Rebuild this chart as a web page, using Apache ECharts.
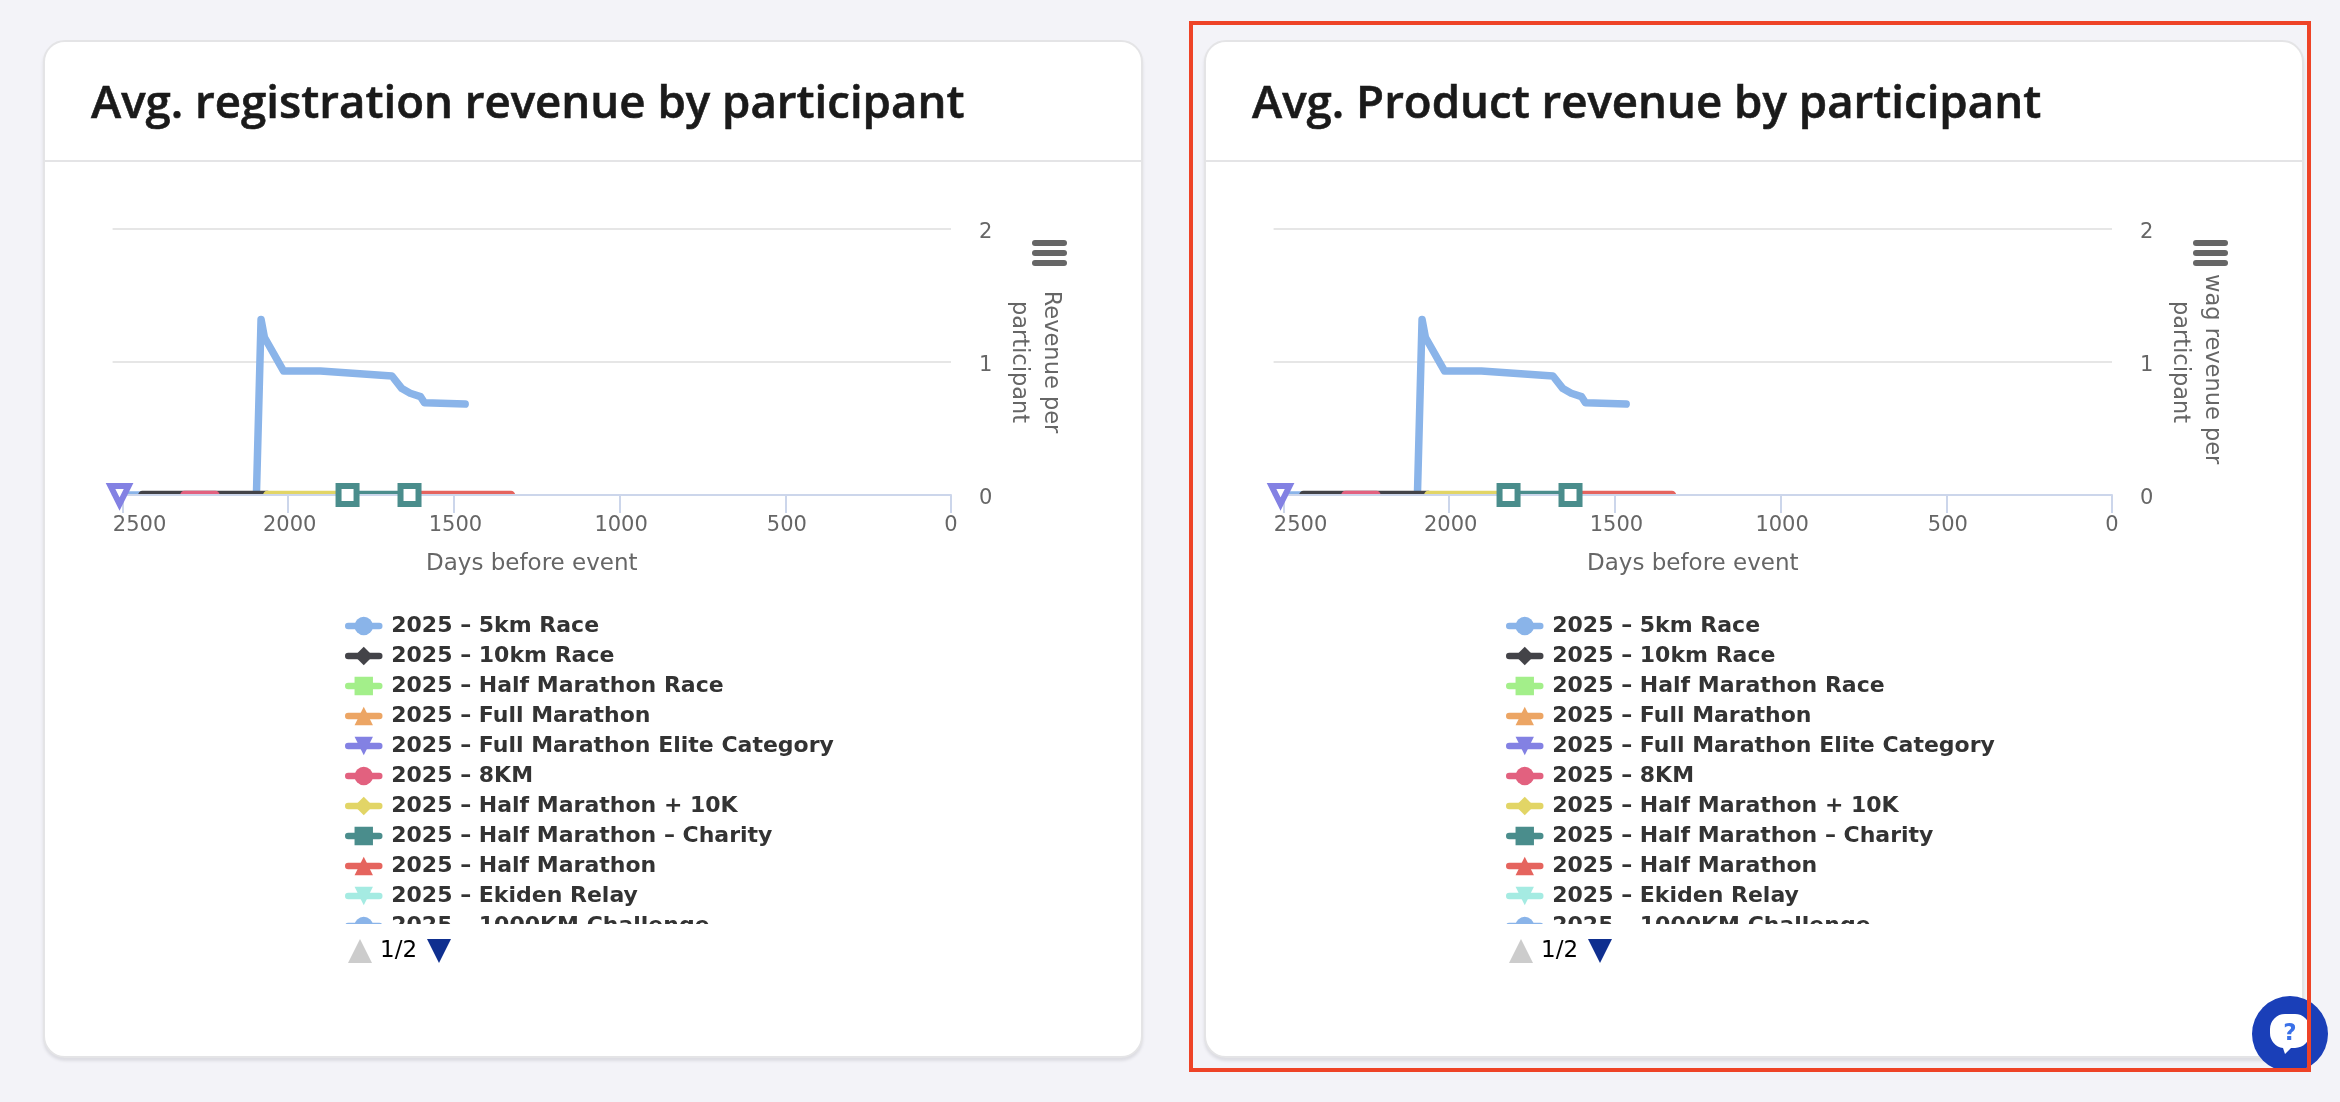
<!DOCTYPE html>
<html><head><meta charset="utf-8">
<script src="https://cdn.jsdelivr.net/npm/echarts@6/dist/echarts.min.js"></script>
<style>
html,body{margin:0;padding:0;background:#f3f3f8;width:2340px;height:1102px;overflow:hidden}
.card{position:absolute;top:40px;width:1096px;height:1014px;background:#fff;border:2px solid #e4e4e6;border-radius:22px;box-shadow:0 3px 3px #dcdce2;box-sizing:content-box}
.rule{position:absolute;left:0;right:0;top:118px;height:2px;background:#e4e4e6}
.chart{position:absolute;left:-2px;top:-2px;width:1100px;height:1018px}
#red{position:absolute;left:1189px;top:21px;width:1114px;height:1043px;border:4px solid #ee4327;z-index:3}
#help{position:absolute;left:2252px;top:996px;z-index:2}
</style></head><body>
<div class="card" style="left:43px"><div class="rule"></div><div class="chart" id="c1"></div></div>
<div class="card" style="left:1204px"><div class="rule"></div><div class="chart" id="c2"></div></div>
<div id="red"></div>
<svg id="help" width="76" height="76" viewBox="0 0 76 76"><circle cx="38" cy="38" r="38" fill="#1a3fb8"/><path d="M33 18h10a15 15 0 0 1 15 15v4a15 15 0 0 1-15 15h-4l-6 6-2-6a15 15 0 0 1-13-15v-4a15 15 0 0 1 15-15z" fill="#fff"/><text x="38" y="44" text-anchor="middle" font-family="DejaVu Sans" font-weight="700" font-size="23" fill="#3a70e8">?</text></svg>
<script>
const seriesNames = ['2025 – 5km Race','2025 – 10km Race','2025 – Half Marathon Race','2025 – Full Marathon','2025 – Full Marathon Elite Category','2025 – 8KM','2025 – Half Marathon + 10K','2025 – Half Marathon – Charity','2025 – Half Marathon','2025 – Ekiden Relay','2025 – 1000KM Challenge','\u00a0'];
const seriesColors = ['#8ab4e9','#434348','#a3ef8a','#eca564','#8381e3','#e2617f','#e2d566','#4a8d8c','#e5645e','#a5ebe2','#8ab4e9','#434348'];
const triDown = 'path://M0,0L20,0L10,20Z', triUp = 'path://M0,20L20,20L10,0Z';
const seriesSymbols = ['circle','diamond','rect',triUp,triDown,'circle','diamond','rect',triUp,triDown,'circle','diamond'];
const race5km = [[2509,0],[2096,0],[2082,1.32],[2072,1.186],[2014,0.932],[1903,0.932],[1687,0.895],[1657,0.80],[1632,0.765],[1601,0.74],[1589,0.694],[1466,0.684]];
const race10km = [[2440,0],[2063,0]];
const halfRace = [];
const fullMarathon = [];
const eliteCategory = [[2509,0]];
const race8km = [[2313,0],[2220,0]];
const halfPlus10k = [[2063,0],[1821,0]];
const halfCharity = [[1821,0],[1634,0]];
const halfMarathon = [[1598,0],[1328,0]];
const ekiden = [];
const challenge1000 = [];
const nextPagePlaceholder = [];
const seriesValues = [race5km,race10km,halfRace,fullMarathon,eliteCategory,race8km,halfPlus10k,halfCharity,halfMarathon,ekiden,challenge1000,nextPagePlaceholder];
const isolatedPoints = {4:[[2509,0]], 7:[[1821,0],[1634,0]]};
const xTicks = [0,500,1000,1500,2000,2500];
const yTicks = [0,1,2];
const xMax = 2530;
const pageLabel = '1/2';
const cards = [
 {id:'c1',title:'Avg. registration revenue by participant',yName:'Revenue per\nparticipant'},
 {id:'c2',title:'Avg. Product revenue by participant',yName:'\u00a0\u00a0wag revenue per\nparticipant'}
];
const AXIS='#ccd6eb', GRID='#e6e6e6', TXT='#666666', SANS='"DejaVu Sans"';
cards.forEach(cfg=>{
 const chart = echarts.init(document.getElementById(cfg.id),null,{renderer:'canvas'});
 const burger=[200,210,220].map(y=>({type:'rect',z:6,silent:true,shape:{x:989,y,width:35,height:6,r:3},style:{fill:'#666'}}));
 const pager=[
  {type:'polygon',z:6,silent:true,shape:{points:[[305,923],[329,923],[317,899]]},style:{fill:'#cccccc'}},
  {type:'text',z:6,silent:true,x:337,y:911,style:{text:pageLabel,fontFamily:SANS,fontSize:23,fill:'#000',verticalAlign:'middle'}},
  {type:'polygon',z:6,silent:true,shape:{points:[[384,899],[408,899],[396,923]]},style:{fill:'#0f2f8f'}}
 ];
 chart.setOption({
  animation:false,
  title:{text:cfg.title,left:43,top:37,textStyle:{fontFamily:'"Open Sans"',fontWeight:600,fontSize:45.6,color:'#1a1a1a',textBorderColor:'#1a1a1a',textBorderWidth:0.6}},
  grid:{left:69.6,top:189,width:838.4,height:266,containLabel:false},
  xAxis:{type:'value',inverse:true,min:0,max:xMax,interval:500,z:4,
    name:'Days before event',nameLocation:'middle',nameGap:58,nameTextStyle:{fontFamily:SANS,fontSize:23,color:TXT},
    axisLine:{show:true,lineStyle:{color:AXIS,width:2}},
    axisTick:{show:true,length:18,lineStyle:{color:AXIS,width:2},customValues:xTicks},
    splitLine:{show:false},
    axisLabel:{margin:20,fontFamily:SANS,fontSize:21,color:TXT,customValues:xTicks,
      formatter:v=>v===2500?'{f|2500}':v===0?'0':'{n|'+v+'}',
      rich:{f:{fontFamily:SANS,fontSize:21,color:TXT,padding:[0,0,0,34]},n:{fontFamily:SANS,fontSize:21,color:TXT,padding:[0,0,0,3]}}}},
  yAxis:{type:'value',position:'right',min:0,max:2,interval:1,
    name:cfg.yName,nameLocation:'middle',nameRotate:-90,nameGap:49,nameTextStyle:{fontFamily:SANS,fontSize:22.5,color:TXT,lineHeight:32},
    axisLine:{show:false},axisTick:{show:false},
    splitLine:{show:true,lineStyle:{color:GRID,width:2}},
    axisLabel:{margin:28,fontFamily:SANS,fontSize:21,color:TXT,customValues:yTicks,
      formatter:v=>'{v|'+v+'}',rich:{v:{fontFamily:SANS,fontSize:21,color:TXT,padding:[8,0,0,0]}}}},
  legend:{type:'scroll',orient:'vertical',left:302,top:574,height:349,width:560,padding:0,itemWidth:31,itemHeight:23,itemGap:6,
    data:seriesNames,textStyle:{fontFamily:SANS,fontWeight:'bold',fontSize:22,color:'#333',lineHeight:24,padding:[0,0,0,7]},
    lineStyle:{width:6.5,cap:'round'},
    pageIconColor:'transparent',pageIconInactiveColor:'transparent',pageIconSize:24,pageButtonGap:15,pageButtonItemGap:8,pageFormatter:' ',pageTextStyle:{color:'transparent'}},
  graphic:[{type:'rect',z:3,silent:true,shape:{x:69.6,y:456,width:838.4,height:4},style:{fill:'#fff'}},...burger,...pager],
  series:seriesNames.map((name,i)=>({
    name,type:'line',data:seriesValues[i],showSymbol:false,symbol:seriesSymbols[i],symbolSize:19,
    clip:false,z:2,
    lineStyle:{width:i===0?7.5:8.6,cap:'round',join:'round',color:seriesColors[i]},
    itemStyle:{color:seriesColors[i]},
    markPoint:isolatedPoints[i]?{silent:true,symbol:seriesSymbols[i],symbolSize:18,label:{show:false},
      itemStyle:{color:'#fff',borderColor:seriesColors[i],borderWidth:6},
      data:isolatedPoints[i].map(p=>({coord:p}))}:undefined
  }))
 });
});
</script></body></html>
